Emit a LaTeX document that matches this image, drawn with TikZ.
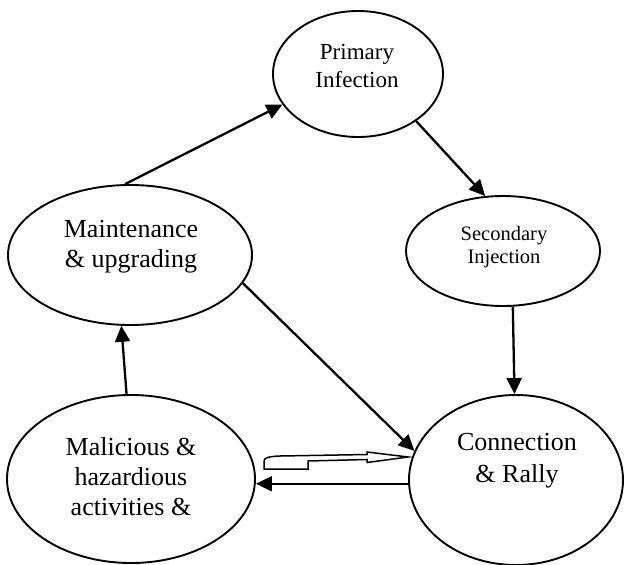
\documentclass[tikz,border=0pt]{standalone}
\usepackage{fontspec}
\setmainfont{Liberation Serif}
\usetikzlibrary{arrows.meta,shapes.geometric}
\begin{document}
\begin{tikzpicture}[x=1pt,y=1pt,
  ell/.style={draw, ellipse, line width=1.9pt, inner sep=0pt},
  txt/.style={align=center, inner sep=0pt},
  arr/.style={line width=2.3pt, -{Triangle[length=16pt,width=15pt]}},
  hollow/.style={draw, line width=1.5pt, fill=white, line join=miter}
]
\useasboundingbox (0,0) rectangle (624,-565);
% ellipses
\node[ell, minimum width=170pt, minimum height=126pt] (P) at (358,-74) {};
\node[ell, minimum width=194pt, minimum height=110pt] (S) at (503,-251) {};
\node[ell, minimum width=244pt, minimum height=140pt] (M) at (130,-255) {};
\node[ell, minimum width=248pt, minimum height=168pt] (H) at (131,-479) {};
\node[ell, minimum width=214pt, minimum height=170pt] (C) at (516,-480) {};
% texts
\node[txt, font=\fontsize{23}{28}\selectfont] (Pt) at (357,-66) {Primary\\Infection};
\node[txt, font=\fontsize{20.5}{23}\selectfont] (St) at (504,-247) {Secondary\\Injection};
\node[txt, font=\fontsize{26}{30}\selectfont] (Mt) at (131,-247) {Maintenance\\\&~upgrading};
\node[txt, font=\fontsize{26}{30}\selectfont] (Ht) at (131,-477) {Malicious \&\\hazardious\\activities \&};
\node[txt, font=\fontsize{26}{32}\selectfont] (Ct) at (517,-461) {Connection\\\&~Rally};
% connectors
\draw[arr] (M.94) -- (P.202);
\draw[arr] (P.-39) -- (S.108);
\draw[arr] (S.-80) -- (C.91);
\draw[arr] (M.-14) -- (C.164);
\draw[arr] (H.93) -- (M.263);
\draw[arr] (C.182) -- (C.182 -| H.east);
% hollow block arrow
\coordinate (hb) at (264,-469);
\path[hollow] (hb) -- (308,-469) -- (308,-461) -- (367,-459.5) -- (367,-462.5)
  -- (408,-457) -- (367,-452) -- (367,-454.5) -- (280,-456)
  .. controls (268,-456.5) and (264,-458) .. (264,-461) -- cycle;
\end{tikzpicture}
\end{document}
